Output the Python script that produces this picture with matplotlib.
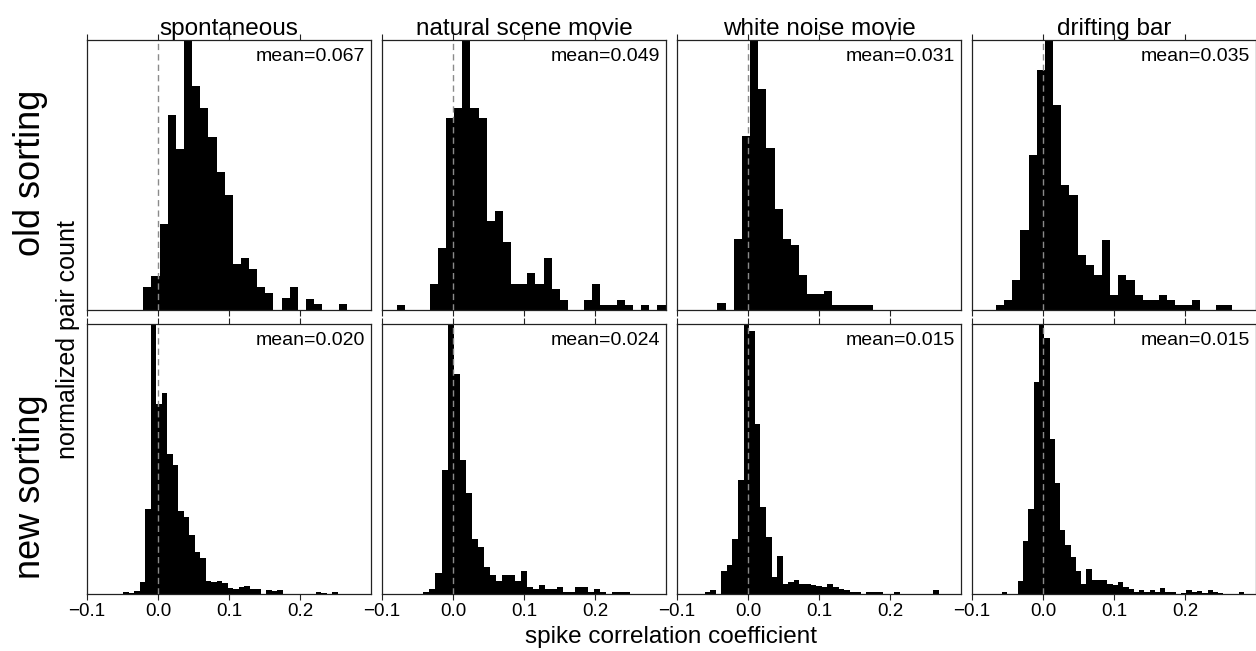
import numpy as np
import matplotlib
matplotlib.use("Agg")
import matplotlib.pyplot as plt

plt.rcParams["font.family"] = ["Liberation Sans", "DejaVu Sans"]

# ---- data -------------------------------------------------------------
stimuli = ["spontaneous", "natural scene movie", "white noise movie", "drifting bar"]
sortings = ["old sorting", "new sorting"]
xticks = [-0.1, 0.0, 0.1, 0.2]
xtick_labels = ["\u22120.1", "0.0", "0.1", "0.2"]

# histogram bin ranges (first edge, last edge) and normalized pair counts
old_ranges = [(-0.0207, 0.2658), (-0.0784, 0.2993), (-0.0432, 0.1760), (-0.0662, 0.2667)]
new_ranges = [(-0.0491, 0.2530), (-0.0418, 0.2495), (-0.0612, 0.2691), (-0.0576, 0.2837)]

old_spont = [0.084, 0.126, 0.319, 0.723, 0.596, 1.0, 0.830, 0.747, 0.640, 0.510,
             0.426, 0.169, 0.191, 0.151, 0.086, 0.062, 0, 0.043, 0.084, 0,
             0.042, 0.022, 0, 0, 0.022]
old_natural = [0.019, 0, 0, 0, 0.096, 0.231, 0.712, 0.749, 1.0, 0.749,
               0.712, 0.328, 0.367, 0.251, 0.096, 0.096, 0.136, 0.096, 0.194, 0.077,
               0.038, 0, 0, 0.038, 0.096, 0.019, 0.019, 0.038, 0.019, 0,
               0.019, 0, 0.019]
old_noise = [0.027, 0, 0.262, 0.644, 1.0, 0.817, 0.601, 0.373, 0.262, 0.240,
             0.130, 0.058, 0.058, 0.072, 0.019, 0.019, 0.019, 0.019, 0.019]
old_bar = [0.019, 0.037, 0.111, 0.296, 0.574, 0.889, 1.0, 0.759, 0.463, 0.426,
           0.204, 0.167, 0.130, 0.259, 0.056, 0.130, 0.111, 0.056, 0.037, 0.037,
           0.056, 0.037, 0.019, 0.019, 0.037, 0, 0, 0.019, 0.019]

new_spont = [0.007, 0.004, 0.010, 0.044, 0.314, 1.0, 0.704, 0.746, 0.519, 0.478,
             0.307, 0.285, 0.219, 0.157, 0.132, 0.049, 0.044, 0.049, 0.042, 0.023,
             0.017, 0.025, 0.030, 0.017, 0.020, 0, 0.015, 0.011, 0.015, 0,
             0, 0, 0, 0, 0, 0.007, 0.004, 0, 0.007]
new_natural = [0.007, 0.020, 0.079, 0.459, 1.0, 0.815, 0.496, 0.373, 0.205, 0.173,
               0.101, 0.069, 0.048, 0.070, 0.070, 0.048, 0.086, 0.025, 0.017, 0.032,
               0.017, 0.017, 0.025, 0.007, 0.007, 0.025, 0.025, 0.007, 0.017, 0.007,
               0, 0.009, 0.009, 0.009]
new_noise = [0.007, 0.015, 0, 0.085, 0.106, 0.205, 0.422, 1.0, 0.975, 0.630,
             0.324, 0.212, 0.064, 0.141, 0.037, 0.044, 0.052, 0.037, 0.037, 0.032,
             0.030, 0.025, 0.037, 0.025, 0.020, 0.015, 0.009, 0.009, 0, 0.007,
             0.007, 0.007, 0, 0, 0.007, 0, 0, 0, 0, 0,
             0, 0.015]
new_bar = [0.007, 0, 0, 0.049, 0.198, 0.316, 0.785, 1.0, 0.947, 0.575,
           0.410, 0.236, 0.181, 0.136, 0.086, 0.037, 0.091, 0.052, 0.052, 0.052,
           0.037, 0.032, 0.043, 0.025, 0.020, 0.009, 0.015, 0.009, 0.015, 0.009,
           0.022, 0.009, 0.007, 0, 0.004, 0.015, 0.007, 0.011, 0.004, 0.015,
           0.007, 0.004, 0, 0, 0, 0.007]

old_means = [0.067, 0.049, 0.031, 0.035]
new_means = [0.020, 0.024, 0.015, 0.015]

rows = [
    (old_ranges, [old_spont, old_natural, old_noise, old_bar], old_means),
    (new_ranges, [new_spont, new_natural, new_noise, new_bar], new_means),
]

# ---- layout (pixels) --------------------------------------------------
W, H = 1256, 651
col_left = [87, 382, 677, 972]
ax_w = 284
row_top = [40, 324]
ax_h = 270

fig = plt.figure(figsize=(W / 100, H / 100), dpi=100)

spine_col = "#222222"
for r, (ranges, series, means) in enumerate(rows):
    for c in range(4):
        left = col_left[c] / W
        bottom = 1 - (row_top[r] + ax_h) / H
        ax = fig.add_axes([left, bottom, ax_w / W, ax_h / H])
        lo, hi = ranges[c]
        vals = np.asarray(series[c], dtype=float)
        edges = np.linspace(lo, hi, len(vals) + 1)
        ax.stairs(vals, edges, fill=True, color="black", linewidth=0, zorder=2)
        ax.axvline(0.0, color="#8a8a8a", linewidth=1.0, dashes=(4.5, 3.0), zorder=3)
        ax.set_xlim(-0.1, 0.3)
        ax.set_ylim(0, 1.0)
        ax.set_yticks([])
        ax.set_xticks(xticks)
        ax.tick_params(axis="x", which="both", direction="out", top=True, bottom=True,
                       length=4.3, width=0.8, color=spine_col,
                       labelsize=13.5, pad=2, labelbottom=(r == 1), labeltop=False)
        if r == 1:
            ax.set_xticklabels(xtick_labels)
        for s in ax.spines.values():
            s.set_linewidth(0.9)
            s.set_color(spine_col)
        ax.annotate(f"mean={means[c]:.3f}", xy=(1, 1), xycoords="axes fraction",
                    xytext=(-4.5, -5.5), textcoords="offset points",
                    ha="right", va="top", fontsize=14)
        if r == 0:
            ax.set_title(stimuli[c], fontsize=17.5, pad=2.5)

# row and axis labels
fig.text(30 / W, 1 - 173 / H, sortings[0], rotation=90, ha="center", va="center", fontsize=26)
fig.text(30 / W, 1 - 487 / H, sortings[1], rotation=90, ha="center", va="center", fontsize=26)
fig.text(68 / W, 1 - 340 / H, "normalized pair count", rotation=90,
         ha="center", va="center", fontsize=18)
fig.text(671 / W, 1 - 643 / H, "spike correlation coefficient",
         ha="center", va="baseline", fontsize=17.5)

fig.savefig("out.png", dpi=100)
